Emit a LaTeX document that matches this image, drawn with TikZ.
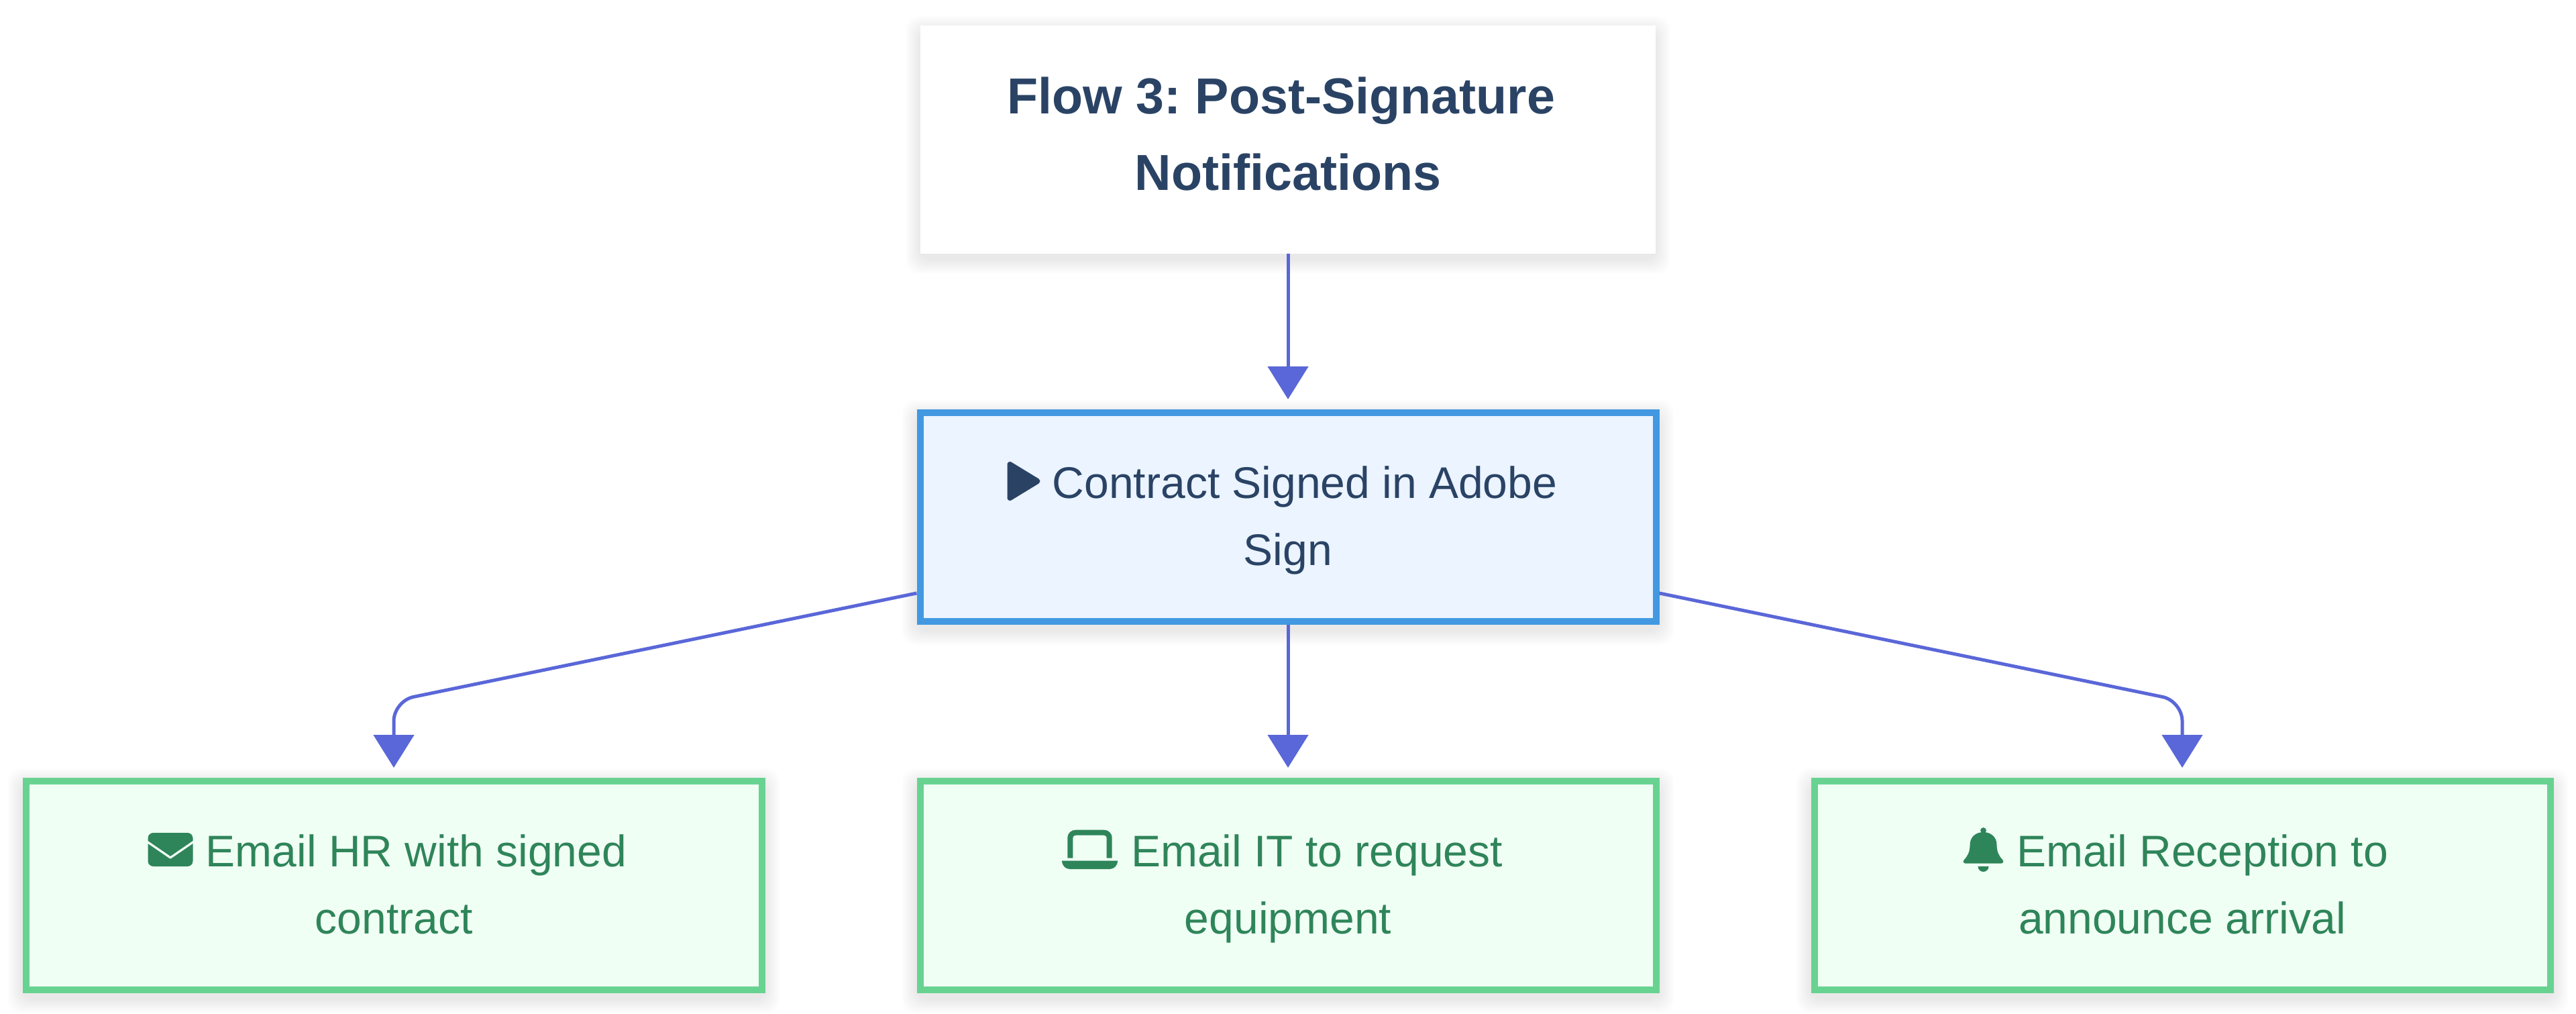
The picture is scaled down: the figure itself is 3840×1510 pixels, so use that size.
\documentclass[tikz,border=0pt]{standalone}
\usepackage{fontspec}
\setmainfont{Liberation Sans}
\usetikzlibrary{positioning}
\usetikzlibrary{arrows.meta}
\usetikzlibrary{backgrounds}
\definecolor{navytext}{HTML}{2A4365}
\definecolor{flowline}{HTML}{5A67D8}
\definecolor{startedge}{HTML}{4299E1}
\definecolor{startfill}{HTML}{EBF4FF}
\definecolor{mailedge}{HTML}{68D391}
\definecolor{mailfill}{HTML}{F0FFF4}
\definecolor{mailtext}{HTML}{2F855A}
\newcommand{\firstline}{\rule{0pt}{18.7pt}}

\begin{document}
\frenchspacing
\begin{tikzpicture}[x=0.25pt,y=-0.25pt,>={Triangle[length=12.25pt,width=15pt]}]
	\tikzset{heading/.style = {shape=rectangle, fill=white, text=navytext, outer sep=0pt, minimum width=274pt, minimum height=85pt, align=center, font=\fontsize{18.85}{28.5}\selectfont\bfseries}}
	\tikzset{vertex/.style = {shape=rectangle, draw, line width=2.5pt, minimum width=274.25pt, minimum height=77.75pt, align=center, font=\fontsize{16.5}{25}\selectfont}}
	\tikzset{signal/.style = {vertex, draw=startedge, fill=startfill, text=navytext}}
	\tikzset{mailto/.style = {vertex, draw=mailedge, fill=mailfill, text=mailtext}}
	\tikzset{flow/.style = {->, draw=flowline, line width=1.25pt, shorten >=3.75pt, rounded corners=7.5pt}}
	\tikzset{playicon/.pic = {\filldraw[navytext, line width=2pt, line join=round] (-20.5,-25) -- (20.5,0) -- (-20.5,25) -- cycle;}}
	\tikzset{envelope/.pic = {
		\fill[mailtext, rounded corners=2pt] (-33.5,-25) rectangle (33.5,25);
		\draw[mailfill, line width=0.8pt, line join=round] (-35,-12) -- (0,12) -- (35,-12);}}
	\tikzset{laptop/.pic = {
		\draw[mailtext, line width=2pt, rounded corners=2pt] (-29.2,12.7) -- (-29.2,-25.3) -- (29.2,-25.3) -- (29.2,12.7);
		\fill[mailtext] (-41.5,16.5) -- (41.5,16.5) .. controls (41.5,24) and (36,29) .. (30,29) -- (-30,29) .. controls (-36,29) and (-41.5,24) .. (-41.5,16.5) -- cycle;}}
	\tikzset{bell/.pic = {
		\fill[mailtext] (-27,20.5) .. controls (-30,20.5) and (-30.5,17) .. (-28.5,15) .. controls (-23,9) and (-20,3) .. (-20,-7) .. controls (-20,-19) and (-11,-26) .. (0,-26) .. controls (11,-26) and (20,-19) .. (20,-7) .. controls (20,3) and (23,9) .. (28.5,15) .. controls (30.5,17) and (30,20.5) .. (27,20.5) -- cycle;
		\fill[mailtext] (0,-28.5) circle (1.1pt);
		\fill[mailtext] (-8,25) .. controls (-8,30) and (-4,33) .. (0,33) .. controls (4,33) and (8,30) .. (8,25) -- cycle;}}

	\useasboundingbox (0,0) rectangle (3840,1510);

	\node[heading] (TITLE) at (1920,208)
	{\strut Flow 3: Post-Signature\hspace*{5.25pt} \\
		Notifications\rule[-10.95pt]{0pt}{1pt}};
	\node[signal, below=58pt of TITLE] (SIGNED)
	{\hspace*{12.5pt}\firstline Contract Signed in Adobe \\
		Sign\strut};
	\node[mailto, below=57pt of SIGNED] (IT)
	{\hspace*{21.5pt}\firstline Email IT to request \\
		equipment\strut};
	\node[mailto, left=56.5pt of IT] (HR)
	{\hspace*{16.75pt}\firstline Email HR with signed \\
		contract\strut};
	\node[mailto, right=56.5pt of IT] (RECEPTION)
	{\hspace*{15pt}\firstline Email Reception to \\
		announce arrival\strut};

	\pic at ([shift={(-394,-53.5)}]SIGNED.center) {playicon};
	\pic at ([shift={(-333,-53.5)}]HR.center) {envelope};
	\pic at ([shift={(-295.5,-53.5)}]IT.center) {laptop};
	\pic at ([shift={(-296.5,-53.5)}]RECEPTION.center) {bell};

	\coordinate (BENDHR) at (HR |- 0,1044.5);
	\coordinate (BENDRECEPTION) at (RECEPTION |- 0,1044.5);

	\draw[flow] (TITLE) -- (SIGNED);
	\draw[flow] (SIGNED) -- (IT);
	\draw[flow] (SIGNED) -- (BENDHR) -- (HR);
	\draw[flow] (SIGNED) -- (BENDRECEPTION) -- (RECEPTION);

	\begin{scope}[on background layer]
		\foreach \nodename in {TITLE,SIGNED,HR,IT,RECEPTION}
		\foreach \spread in {2,4,...,22}
		\fill[black, fill opacity=0.007, rounded corners=5pt] ([shift={(-\spread,8-\spread)}]\nodename.north west) rectangle ([shift={(\spread,8+\spread)}]\nodename.south east);
	\end{scope}
\end{tikzpicture}
\end{document}
